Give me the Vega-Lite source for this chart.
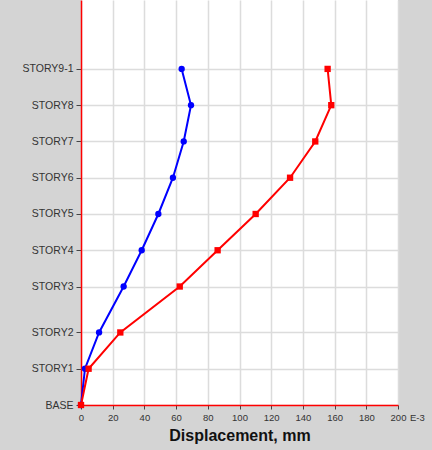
{
  "$schema": "https://vega.github.io/schema/vega-lite/v6.json",
  "width": 317,
  "height": 405,
  "autosize": {"type": "none"},
  "padding": {"left": 81, "top": 0, "right": 34, "bottom": 45},
  "background": "#d4d4d4",
  "config": {
    "view": {"fill": "white", "stroke": null},
    "axis": {
      "gridColor": "#dcdcdc",
      "gridWidth": 1.5,
      "domainColor": "#ff0000",
      "domainWidth": 1.5,
      "tickColor": "#444444",
      "tickSize": 4,
      "labelColor": "#333333",
      "labelFont": "Liberation Sans",
      "titleFont": "Liberation Sans"
    }
  },
  "datasets": {
    "disp": [
      {"story": "BASE", "elev": 0, "disp": 0, "series": "A"},
      {"story": "STORY1", "elev": 3, "disp": 2.5, "series": "A"},
      {"story": "STORY2", "elev": 6, "disp": 11.4, "series": "A"},
      {"story": "STORY3", "elev": 9.8, "disp": 26.9, "series": "A"},
      {"story": "STORY4", "elev": 12.8, "disp": 38.3, "series": "A"},
      {"story": "STORY5", "elev": 15.8, "disp": 48.8, "series": "A"},
      {"story": "STORY6", "elev": 18.8, "disp": 58.0, "series": "A"},
      {"story": "STORY7", "elev": 21.8, "disp": 64.8, "series": "A"},
      {"story": "STORY8", "elev": 24.8, "disp": 69.4, "series": "A"},
      {"story": "STORY9-1", "elev": 27.8, "disp": 63.5, "series": "A"},
      {"story": "BASE", "elev": 0, "disp": 0, "series": "B"},
      {"story": "STORY1", "elev": 3, "disp": 4.8, "series": "B"},
      {"story": "STORY2", "elev": 6, "disp": 24.8, "series": "B"},
      {"story": "STORY3", "elev": 9.8, "disp": 62.3, "series": "B"},
      {"story": "STORY4", "elev": 12.8, "disp": 86.2, "series": "B"},
      {"story": "STORY5", "elev": 15.8, "disp": 110.2, "series": "B"},
      {"story": "STORY6", "elev": 18.8, "disp": 131.9, "series": "B"},
      {"story": "STORY7", "elev": 21.8, "disp": 147.8, "series": "B"},
      {"story": "STORY8", "elev": 24.8, "disp": 157.9, "series": "B"},
      {"story": "STORY9-1", "elev": 27.8, "disp": 155.6, "series": "B"}
    ],
    "note": [{"disp": 200, "elev": 0, "text": "E-3"}]
  },
  "layer": [
    {
      "data": {"name": "disp"},
      "mark": {"type": "line", "strokeWidth": 2, "clip": false},
      "encoding": {
        "x": {
          "field": "disp", "type": "quantitative",
          "scale": {"domain": [0, 200], "nice": false, "zero": false},
          "axis": {
            "values": [0, 20, 40, 60, 80, 100, 120, 140, 160, 180, 200],
            "tickCount": 20,
            "title": "Displacement, mm",
            "titleFontSize": 16,
            "titleFontWeight": "bold",
            "titleColor": "#111111",
            "titlePadding": 6,
            "labelFontSize": 9.5,
            "labelPadding": 3,
            "labelFlush": false,
            "labelOverlap": false,
            "labelBound": false
          }
        },
        "y": {
          "field": "elev", "type": "quantitative",
          "scale": {"domain": [0, 33.5], "nice": false, "zero": false},
          "axis": {
            "values": [0, 3, 6, 9.8, 12.8, 15.8, 18.8, 21.8, 24.8, 27.8],
            "tickCount": 20,
            "labelExpr": "['BASE','STORY1','STORY2','STORY3','STORY4','STORY5','STORY6','STORY7','STORY8','STORY9-1'][indexof([0,3,6,9.8,12.8,15.8,18.8,21.8,24.8,27.8], datum.value)]",
            "title": null,
            "labelFontSize": 10.5,
            "labelPadding": 3,
            "tickSize": 5,
            "labelOverlap": false
          }
        },
        "order": {"field": "elev", "type": "quantitative"},
        "color": {
          "field": "series", "type": "nominal",
          "scale": {"domain": ["A", "B"], "range": ["#0000ff", "#ff0000"]},
          "legend": null
        }
      }
    },
    {
      "data": {"name": "disp"},
      "mark": {"type": "point", "filled": true, "size": 40, "opacity": 1, "clip": false},
      "encoding": {
        "x": {"field": "disp", "type": "quantitative"},
        "y": {"field": "elev", "type": "quantitative"},
        "color": {"field": "series", "type": "nominal", "legend": null},
        "shape": {
          "field": "series", "type": "nominal",
          "scale": {"domain": ["A", "B"], "range": ["circle", "square"]},
          "legend": null
        }
      }
    },
    {
      "data": {"name": "note"},
      "mark": {"type": "text", "align": "left", "baseline": "middle", "dx": 12, "dy": 13, "fontSize": 9.5, "font": "Liberation Sans", "color": "#333333", "clip": false},
      "encoding": {
        "x": {"field": "disp", "type": "quantitative"},
        "y": {"field": "elev", "type": "quantitative"},
        "text": {"field": "text"}
      }
    }
  ]
}
